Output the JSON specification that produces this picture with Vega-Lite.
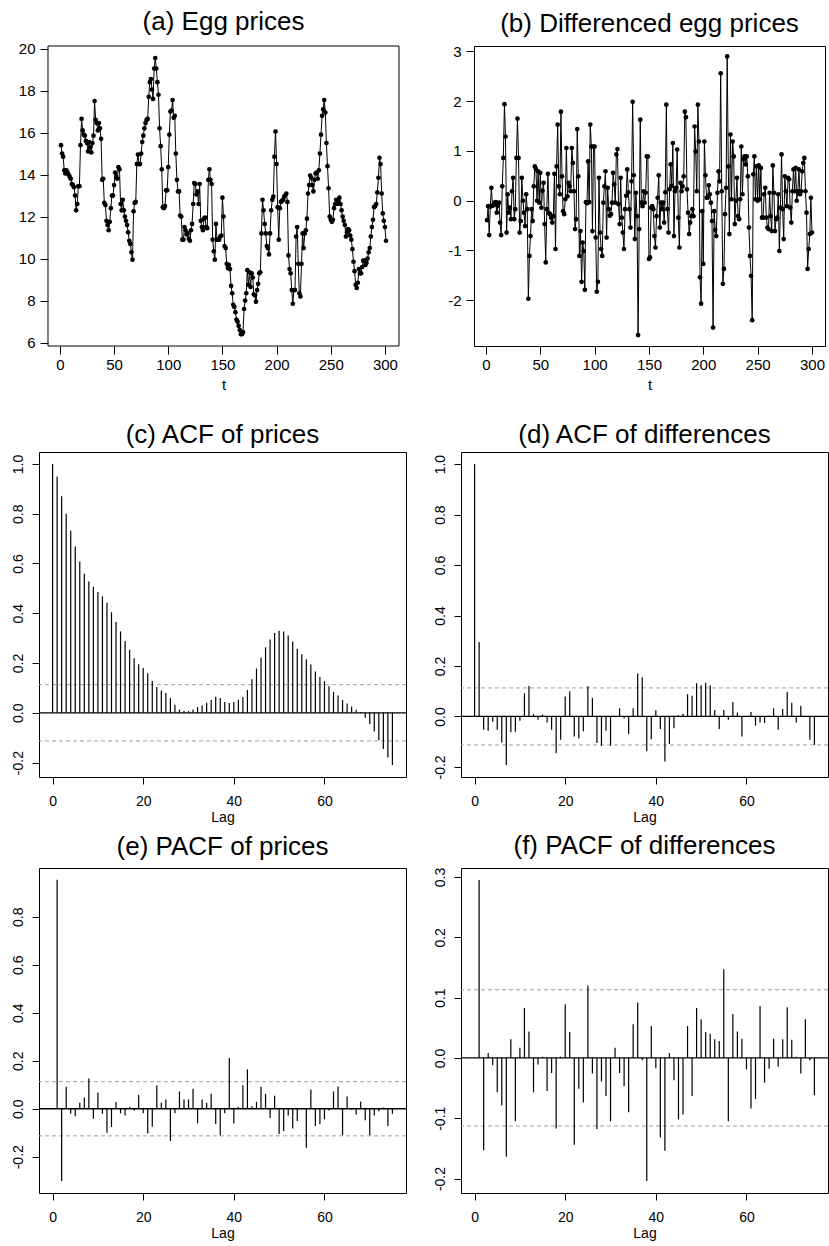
{
"$schema":"https://vega.github.io/schema/vega-lite/v6.json",
"padding":{"left":0,"top":8,"right":0,"bottom":0},
"background":"white",
"config":{
 "font":"Liberation Sans",
 "view":{"stroke":"black","strokeWidth":1},
 "axis":{"domain":false,"grid":false,"ticks":true,"tickColor":"black","tickWidth":1,"labelColor":"black","titleColor":"black","titleFontWeight":"normal","labelFont":"Liberation Sans","titleFont":"Liberation Sans","labelFlush":false,"labelOverlap":false},
 "title":{"fontSize":26,"fontWeight":"normal","font":"Liberation Sans","color":"black","anchor":"middle","frame":"group","baseline":"alphabetic"}
},
"datasets":{
"eggs":[{"t":1,"price":15.4},{"t":2,"price":15.0},{"t":3,"price":14.85},{"t":4,"price":14.2},{"t":5,"price":14.05},{"t":6,"price":14.2},{"t":7,"price":14.1},{"t":8,"price":14.0},{"t":9,"price":13.9},{"t":10,"price":13.8},{"t":11,"price":13.55},{"t":12,"price":13.5},{"t":13,"price":13.4},{"t":14,"price":13.0},{"t":15,"price":12.3},{"t":16,"price":12.6},{"t":17,"price":13.45},{"t":18,"price":13.45},{"t":19,"price":15.4},{"t":20,"price":16.65},{"t":21,"price":16.1},{"t":22,"price":15.9},{"t":23,"price":15.85},{"t":24,"price":15.6},{"t":25,"price":15.5},{"t":26,"price":15.1},{"t":27,"price":15.55},{"t":28,"price":15.3},{"t":29,"price":15.05},{"t":30,"price":15.5},{"t":31,"price":15.85},{"t":32,"price":17.5},{"t":33,"price":16.6},{"t":34,"price":16.45},{"t":35,"price":16.1},{"t":36,"price":16.45},{"t":37,"price":16.2},{"t":38,"price":15.7},{"t":39,"price":13.75},{"t":40,"price":13.8},{"t":41,"price":12.65},{"t":42,"price":12.55},{"t":43,"price":11.8},{"t":44,"price":11.6},{"t":45,"price":11.35},{"t":46,"price":11.75},{"t":47,"price":12.4},{"t":48,"price":13.0},{"t":49,"price":13.0},{"t":50,"price":13.5},{"t":51,"price":14.1},{"t":52,"price":13.9},{"t":53,"price":13.8},{"t":54,"price":14.35},{"t":55,"price":14.25},{"t":56,"price":12.6},{"t":57,"price":12.3},{"t":58,"price":12.8},{"t":59,"price":12.3},{"t":60,"price":12.0},{"t":61,"price":11.8},{"t":62,"price":11.6},{"t":63,"price":11.25},{"t":64,"price":10.85},{"t":65,"price":10.7},{"t":66,"price":10.3},{"t":67,"price":9.95},{"t":68,"price":12.25},{"t":69,"price":12.65},{"t":70,"price":12.7},{"t":71,"price":14.5},{"t":72,"price":14.95},{"t":73,"price":14.5},{"t":74,"price":14.5},{"t":75,"price":15.0},{"t":76,"price":15.55},{"t":77,"price":15.85},{"t":78,"price":16.2},{"t":79,"price":16.45},{"t":80,"price":16.6},{"t":81,"price":16.65},{"t":82,"price":17.7},{"t":83,"price":18.4},{"t":84,"price":18.55},{"t":85,"price":18.05},{"t":86,"price":17.6},{"t":87,"price":19.05},{"t":88,"price":19.55},{"t":89,"price":19.05},{"t":90,"price":18.4},{"t":91,"price":17.8},{"t":92,"price":16.2},{"t":93,"price":15.35},{"t":94,"price":14.25},{"t":95,"price":12.45},{"t":96,"price":12.4},{"t":97,"price":12.5},{"t":98,"price":13.25},{"t":99,"price":13.25},{"t":100,"price":14.35},{"t":101,"price":15.9},{"t":102,"price":17.0},{"t":103,"price":17.05},{"t":104,"price":17.55},{"t":105,"price":16.7},{"t":106,"price":16.8},{"t":107,"price":15.0},{"t":108,"price":13.75},{"t":109,"price":13.2},{"t":110,"price":13.2},{"t":111,"price":12.05},{"t":112,"price":12.0},{"t":113,"price":10.9},{"t":114,"price":10.9},{"t":115,"price":11.5},{"t":116,"price":11.35},{"t":117,"price":11.15},{"t":118,"price":11.2},{"t":119,"price":10.95},{"t":120,"price":10.85},{"t":121,"price":11.35},{"t":122,"price":11.65},{"t":123,"price":12.6},{"t":124,"price":13.6},{"t":125,"price":13.55},{"t":126,"price":13.05},{"t":127,"price":13.2},{"t":128,"price":12.6},{"t":129,"price":13.55},{"t":130,"price":11.8},{"t":131,"price":11.5},{"t":132,"price":11.35},{"t":133,"price":11.9},{"t":134,"price":11.95},{"t":135,"price":11.5},{"t":136,"price":11.45},{"t":137,"price":13.75},{"t":138,"price":14.25},{"t":139,"price":13.75},{"t":140,"price":13.55},{"t":141,"price":10.9},{"t":142,"price":10.35},{"t":143,"price":9.95},{"t":144,"price":11.65},{"t":145,"price":10.9},{"t":146,"price":10.9},{"t":147,"price":10.9},{"t":148,"price":11.05},{"t":149,"price":11.1},{"t":150,"price":12.9},{"t":151,"price":12.0},{"t":152,"price":10.6},{"t":153,"price":10.5},{"t":154,"price":9.75},{"t":155,"price":9.55},{"t":156,"price":9.7},{"t":157,"price":9.5},{"t":158,"price":8.7},{"t":159,"price":8.35},{"t":160,"price":7.8},{"t":161,"price":7.7},{"t":162,"price":7.45},{"t":163,"price":7.1},{"t":164,"price":7.0},{"t":165,"price":6.8},{"t":166,"price":6.6},{"t":167,"price":6.4},{"t":168,"price":6.4},{"t":169,"price":6.5},{"t":170,"price":7.6},{"t":171,"price":8.0},{"t":172,"price":8.35},{"t":173,"price":9.45},{"t":174,"price":8.75},{"t":175,"price":9.35},{"t":176,"price":8.65},{"t":177,"price":9.3},{"t":178,"price":9.1},{"t":179,"price":8.3},{"t":180,"price":8.25},{"t":181,"price":7.95},{"t":182,"price":8.5},{"t":183,"price":8.8},{"t":184,"price":9.3},{"t":185,"price":9.35},{"t":186,"price":11.2},{"t":187,"price":12.8},{"t":188,"price":12.3},{"t":189,"price":11.65},{"t":190,"price":11.2},{"t":191,"price":10.6},{"t":192,"price":10.5},{"t":193,"price":10.2},{"t":194,"price":11.2},{"t":195,"price":12.3},{"t":196,"price":12.8},{"t":197,"price":12.95},{"t":198,"price":14.85},{"t":199,"price":16.05},{"t":200,"price":14.5},{"t":201,"price":12.45},{"t":202,"price":10.9},{"t":203,"price":12.4},{"t":204,"price":12.7},{"t":205,"price":12.75},{"t":206,"price":12.8},{"t":207,"price":12.95},{"t":208,"price":13.0},{"t":209,"price":13.1},{"t":210,"price":12.7},{"t":211,"price":10.15},{"t":212,"price":9.5},{"t":213,"price":9.3},{"t":214,"price":8.5},{"t":215,"price":7.85},{"t":216,"price":8.5},{"t":217,"price":8.5},{"t":218,"price":11.05},{"t":219,"price":11.5},{"t":220,"price":9.75},{"t":221,"price":8.35},{"t":222,"price":8.2},{"t":223,"price":9.75},{"t":224,"price":11.2},{"t":225,"price":10.5},{"t":226,"price":11.2},{"t":227,"price":11.35},{"t":228,"price":11.9},{"t":229,"price":13.1},{"t":230,"price":13.5},{"t":231,"price":13.95},{"t":232,"price":13.85},{"t":233,"price":13.5},{"t":234,"price":13.2},{"t":235,"price":13.75},{"t":236,"price":14.05},{"t":237,"price":14.1},{"t":238,"price":13.8},{"t":239,"price":14.2},{"t":240,"price":15.0},{"t":241,"price":15.9},{"t":242,"price":16.8},{"t":243,"price":17.1},{"t":244,"price":17.55},{"t":245,"price":16.95},{"t":246,"price":15.5},{"t":247,"price":14.4},{"t":248,"price":13.35},{"t":249,"price":12.0},{"t":250,"price":11.85},{"t":251,"price":11.75},{"t":252,"price":11.85},{"t":253,"price":12.4},{"t":254,"price":12.6},{"t":255,"price":12.8},{"t":256,"price":12.6},{"t":257,"price":12.75},{"t":258,"price":12.9},{"t":259,"price":12.6},{"t":260,"price":12.3},{"t":261,"price":12.0},{"t":262,"price":11.8},{"t":263,"price":11.6},{"t":264,"price":11.05},{"t":265,"price":11.25},{"t":266,"price":11.4},{"t":267,"price":11.35},{"t":268,"price":11.1},{"t":269,"price":10.9},{"t":270,"price":10.45},{"t":271,"price":9.85},{"t":272,"price":9.4},{"t":273,"price":8.75},{"t":274,"price":8.6},{"t":275,"price":8.85},{"t":276,"price":9.5},{"t":277,"price":9.3},{"t":278,"price":9.3},{"t":279,"price":9.6},{"t":280,"price":9.9},{"t":281,"price":9.9},{"t":282,"price":9.7},{"t":283,"price":9.8},{"t":284,"price":10.0},{"t":285,"price":10.3},{"t":286,"price":10.5},{"t":287,"price":11.05},{"t":288,"price":11.5},{"t":289,"price":11.85},{"t":290,"price":12.45},{"t":291,"price":12.5},{"t":292,"price":12.6},{"t":293,"price":13.15},{"t":294,"price":13.85},{"t":295,"price":14.8},{"t":296,"price":14.5},{"t":297,"price":13.1},{"t":298,"price":12.15},{"t":299,"price":11.8},{"t":300,"price":11.5},{"t":301,"price":10.85}],
"diffs":[{"t":1,"d":-0.39},{"t":2,"d":-0.11},{"t":3,"d":-0.69},{"t":4,"d":-0.12},{"t":5,"d":0.26},{"t":6,"d":-0.1},{"t":7,"d":-0.09},{"t":8,"d":-0.04},{"t":9,"d":-0.03},{"t":10,"d":-0.24},{"t":11,"d":-0.1},{"t":12,"d":-0.04},{"t":13,"d":-0.44},{"t":14,"d":-0.69},{"t":15,"d":0.29},{"t":16,"d":0.86},{"t":17,"d":1.94},{"t":18,"d":1.29},{"t":19,"d":-0.64},{"t":20,"d":0.13},{"t":21,"d":-0.24},{"t":22,"d":-0.14},{"t":23,"d":-0.37},{"t":24,"d":0.19},{"t":25,"d":0.46},{"t":26,"d":-0.37},{"t":27,"d":-0.17},{"t":28,"d":0.86},{"t":29,"d":1.65},{"t":30,"d":0.86},{"t":31,"d":-0.64},{"t":32,"d":-0.41},{"t":33,"d":0.46},{"t":34,"d":0.0},{"t":35,"d":-0.24},{"t":36,"d":-0.51},{"t":37,"d":0.13},{"t":38,"d":-0.17},{"t":39,"d":-1.97},{"t":40,"d":-1.11},{"t":41,"d":-0.71},{"t":42,"d":-0.17},{"t":43,"d":-0.41},{"t":44,"d":0.29},{"t":45,"d":0.69},{"t":46,"d":0.64},{"t":47,"d":0.0},{"t":48,"d":0.59},{"t":49,"d":-0.04},{"t":50,"d":0.56},{"t":51,"d":-0.14},{"t":52,"d":0.2},{"t":53,"d":0.36},{"t":54,"d":-0.47},{"t":55,"d":-1.24},{"t":56,"d":-0.17},{"t":57,"d":0.54},{"t":58,"d":-0.25},{"t":59,"d":-0.27},{"t":60,"d":-0.34},{"t":61,"d":-0.44},{"t":62,"d":-0.31},{"t":63,"d":0.54},{"t":64,"d":-0.97},{"t":65,"d":0.69},{"t":66,"d":1.53},{"t":67,"d":0.29},{"t":68,"d":0.13},{"t":69,"d":1.79},{"t":70,"d":0.49},{"t":71,"d":-0.21},{"t":72,"d":-0.27},{"t":73,"d":0.03},{"t":74,"d":1.06},{"t":75,"d":0.09},{"t":76,"d":0.36},{"t":77,"d":0.29},{"t":78,"d":0.19},{"t":79,"d":1.06},{"t":80,"d":0.76},{"t":81,"d":0.19},{"t":82,"d":-0.57},{"t":83,"d":-0.37},{"t":84,"d":1.44},{"t":85,"d":0.49},{"t":86,"d":-1.11},{"t":87,"d":-0.61},{"t":88,"d":-1.63},{"t":89,"d":-0.84},{"t":90,"d":-1.01},{"t":91,"d":-1.79},{"t":92,"d":-0.03},{"t":93,"d":-0.05},{"t":94,"d":0.79},{"t":95,"d":-0.03},{"t":96,"d":1.53},{"t":97,"d":1.09},{"t":98,"d":-0.61},{"t":99,"d":1.09},{"t":100,"d":1.09},{"t":101,"d":-0.74},{"t":102,"d":-1.83},{"t":103,"d":-1.63},{"t":104,"d":0.46},{"t":105,"d":-0.64},{"t":106,"d":-0.97},{"t":107,"d":-1.11},{"t":108,"d":-0.04},{"t":109,"d":0.29},{"t":110,"d":0.59},{"t":111,"d":-0.74},{"t":112,"d":0.26},{"t":113,"d":-0.17},{"t":114,"d":-0.3},{"t":115,"d":-0.27},{"t":116,"d":-0.04},{"t":117,"d":0.56},{"t":118,"d":0.33},{"t":119,"d":-0.04},{"t":120,"d":0.93},{"t":121,"d":1.04},{"t":122,"d":-0.07},{"t":123,"d":-0.47},{"t":124,"d":0.46},{"t":125,"d":-0.34},{"t":126,"d":-0.64},{"t":127,"d":-0.97},{"t":128,"d":-0.17},{"t":129,"d":0.1},{"t":130,"d":0.63},{"t":131,"d":0.17},{"t":132,"d":-0.17},{"t":133,"d":-0.54},{"t":134,"d":0.39},{"t":135,"d":1.99},{"t":136,"d":0.51},{"t":137,"d":-0.77},{"t":138,"d":0.16},{"t":139,"d":-0.31},{"t":140,"d":-2.7},{"t":141,"d":-0.57},{"t":142,"d":1.63},{"t":143,"d":-0.04},{"t":144,"d":-0.11},{"t":145,"d":0.19},{"t":146,"d":-0.04},{"t":147,"d":0.16},{"t":148,"d":0.89},{"t":149,"d":0.89},{"t":150,"d":-1.17},{"t":151,"d":-1.14},{"t":152,"d":-0.14},{"t":153,"d":-0.11},{"t":154,"d":-0.17},{"t":155,"d":-0.71},{"t":156,"d":-0.94},{"t":157,"d":-0.31},{"t":158,"d":0.06},{"t":159,"d":0.51},{"t":160,"d":-0.54},{"t":161,"d":-0.04},{"t":162,"d":-0.17},{"t":163,"d":-0.04},{"t":164,"d":-0.44},{"t":165,"d":0.17},{"t":166,"d":1.93},{"t":167,"d":-0.17},{"t":168,"d":-0.64},{"t":169,"d":0.23},{"t":170,"d":0.73},{"t":171,"d":0.3},{"t":172,"d":1.16},{"t":173,"d":-0.71},{"t":174,"d":0.19},{"t":175,"d":0.26},{"t":176,"d":1.03},{"t":177,"d":-0.34},{"t":178,"d":-0.94},{"t":179,"d":0.36},{"t":180,"d":0.19},{"t":181,"d":0.29},{"t":182,"d":0.49},{"t":183,"d":1.79},{"t":184,"d":1.68},{"t":185,"d":0.23},{"t":186,"d":-0.24},{"t":187,"d":-0.67},{"t":188,"d":-0.44},{"t":189,"d":-0.31},{"t":190,"d":-0.17},{"t":191,"d":-0.31},{"t":192,"d":1.49},{"t":193,"d":0.99},{"t":194,"d":0.19},{"t":195,"d":1.93},{"t":196,"d":1.19},{"t":197,"d":-1.54},{"t":198,"d":-2.07},{"t":199,"d":-0.21},{"t":200,"d":-1.27},{"t":201,"d":1.19},{"t":202,"d":0.51},{"t":203,"d":0.06},{"t":204,"d":0.06},{"t":205,"d":0.31},{"t":206,"d":0.13},{"t":207,"d":-0.04},{"t":208,"d":-0.41},{"t":209,"d":-2.55},{"t":210,"d":-0.21},{"t":211,"d":-0.59},{"t":212,"d":-0.71},{"t":213,"d":0.16},{"t":214,"d":0.59},{"t":215,"d":0.39},{"t":216,"d":2.56},{"t":217,"d":0.19},{"t":218,"d":-1.67},{"t":219,"d":-1.37},{"t":220,"d":-0.27},{"t":221,"d":0.26},{"t":222,"d":2.9},{"t":223,"d":0.69},{"t":224,"d":-0.67},{"t":225,"d":1.33},{"t":226,"d":0.03},{"t":227,"d":1.19},{"t":228,"d":0.89},{"t":229,"d":-0.47},{"t":230,"d":0.0},{"t":231,"d":0.46},{"t":232,"d":-0.31},{"t":233,"d":-0.37},{"t":234,"d":0.03},{"t":235,"d":1.09},{"t":236,"d":0.13},{"t":237,"d":0.83},{"t":238,"d":0.89},{"t":239,"d":0.73},{"t":240,"d":0.89},{"t":241,"d":0.49},{"t":242,"d":-0.54},{"t":243,"d":-1.11},{"t":244,"d":-1.51},{"t":245,"d":-2.4},{"t":246,"d":0.53},{"t":247,"d":0.89},{"t":248,"d":0.03},{"t":249,"d":0.69},{"t":250,"d":0.0},{"t":251,"d":0.71},{"t":252,"d":0.03},{"t":253,"d":0.66},{"t":254,"d":-0.34},{"t":255,"d":-0.34},{"t":256,"d":0.13},{"t":257,"d":0.26},{"t":258,"d":-0.34},{"t":259,"d":-0.54},{"t":260,"d":-0.57},{"t":261,"d":0.16},{"t":262,"d":-0.31},{"t":263,"d":-0.61},{"t":264,"d":0.71},{"t":265,"d":0.16},{"t":266,"d":-0.61},{"t":267,"d":-0.37},{"t":268,"d":-0.34},{"t":269,"d":0.13},{"t":270,"d":-1.01},{"t":271,"d":-0.14},{"t":272,"d":0.93},{"t":273,"d":-0.17},{"t":274,"d":-0.77},{"t":275,"d":0.49},{"t":276,"d":0.19},{"t":277,"d":-0.11},{"t":278,"d":0.46},{"t":279,"d":0.43},{"t":280,"d":-0.14},{"t":281,"d":-0.44},{"t":282,"d":0.19},{"t":283,"d":0.63},{"t":284,"d":0.19},{"t":285,"d":0.66},{"t":286,"d":0.0},{"t":287,"d":0.19},{"t":288,"d":0.63},{"t":289,"d":0.13},{"t":290,"d":0.19},{"t":291,"d":0.59},{"t":292,"d":0.76},{"t":293,"d":0.86},{"t":294,"d":0.19},{"t":295,"d":-0.24},{"t":296,"d":-1.37},{"t":297,"d":-0.97},{"t":298,"d":-0.67},{"t":299,"d":0.06},{"t":300,"d":-0.64}],
"acfp":[{"lag":0,"acf":1.0},{"lag":1,"acf":0.95},{"lag":2,"acf":0.87},{"lag":3,"acf":0.8},{"lag":4,"acf":0.732},{"lag":5,"acf":0.668},{"lag":6,"acf":0.608},{"lag":7,"acf":0.559},{"lag":8,"acf":0.528},{"lag":9,"acf":0.507},{"lag":10,"acf":0.485},{"lag":11,"acf":0.468},{"lag":12,"acf":0.442},{"lag":13,"acf":0.404},{"lag":14,"acf":0.365},{"lag":15,"acf":0.327},{"lag":16,"acf":0.289},{"lag":17,"acf":0.253},{"lag":18,"acf":0.219},{"lag":19,"acf":0.195},{"lag":20,"acf":0.18},{"lag":21,"acf":0.159},{"lag":22,"acf":0.128},{"lag":23,"acf":0.104},{"lag":24,"acf":0.09},{"lag":25,"acf":0.08},{"lag":26,"acf":0.059},{"lag":27,"acf":0.032},{"lag":28,"acf":0.013},{"lag":29,"acf":0.007},{"lag":30,"acf":0.007},{"lag":31,"acf":0.013},{"lag":32,"acf":0.023},{"lag":33,"acf":0.029},{"lag":34,"acf":0.04},{"lag":35,"acf":0.051},{"lag":36,"acf":0.064},{"lag":37,"acf":0.059},{"lag":38,"acf":0.043},{"lag":39,"acf":0.039},{"lag":40,"acf":0.043},{"lag":41,"acf":0.052},{"lag":42,"acf":0.063},{"lag":43,"acf":0.092},{"lag":44,"acf":0.135},{"lag":45,"acf":0.178},{"lag":46,"acf":0.222},{"lag":47,"acf":0.263},{"lag":48,"acf":0.295},{"lag":49,"acf":0.321},{"lag":50,"acf":0.33},{"lag":51,"acf":0.327},{"lag":52,"acf":0.311},{"lag":53,"acf":0.287},{"lag":54,"acf":0.257},{"lag":55,"acf":0.235},{"lag":56,"acf":0.215},{"lag":57,"acf":0.194},{"lag":58,"acf":0.166},{"lag":59,"acf":0.144},{"lag":60,"acf":0.127},{"lag":61,"acf":0.107},{"lag":62,"acf":0.084},{"lag":63,"acf":0.07},{"lag":64,"acf":0.051},{"lag":65,"acf":0.037},{"lag":66,"acf":0.025},{"lag":67,"acf":0.012},{"lag":68,"acf":0.003},{"lag":69,"acf":-0.02},{"lag":70,"acf":-0.045},{"lag":71,"acf":-0.075},{"lag":72,"acf":-0.11},{"lag":73,"acf":-0.145},{"lag":74,"acf":-0.18},{"lag":75,"acf":-0.21}],
"acfd":[{"lag":0,"acf":1.0},{"lag":1,"acf":0.295},{"lag":2,"acf":-0.053},{"lag":3,"acf":-0.057},{"lag":4,"acf":-0.021},{"lag":5,"acf":-0.053},{"lag":6,"acf":-0.103},{"lag":7,"acf":-0.192},{"lag":8,"acf":-0.063},{"lag":9,"acf":-0.061},{"lag":10,"acf":-0.017},{"lag":11,"acf":0.092},{"lag":12,"acf":0.121},{"lag":13,"acf":0.009},{"lag":14,"acf":-0.013},{"lag":15,"acf":0.007},{"lag":16,"acf":-0.024},{"lag":17,"acf":-0.053},{"lag":18,"acf":-0.146},{"lag":19,"acf":-0.092},{"lag":20,"acf":0.079},{"lag":21,"acf":0.1},{"lag":22,"acf":-0.079},{"lag":23,"acf":-0.087},{"lag":24,"acf":-0.059},{"lag":25,"acf":0.12},{"lag":26,"acf":0.074},{"lag":27,"acf":-0.105},{"lag":28,"acf":-0.116},{"lag":29,"acf":-0.057},{"lag":30,"acf":-0.116},{"lag":31,"acf":0.001},{"lag":32,"acf":0.032},{"lag":33,"acf":-0.008},{"lag":34,"acf":-0.07},{"lag":35,"acf":0.032},{"lag":36,"acf":0.17},{"lag":37,"acf":0.155},{"lag":38,"acf":-0.138},{"lag":39,"acf":-0.09},{"lag":40,"acf":0.025},{"lag":41,"acf":-0.05},{"lag":42,"acf":-0.179},{"lag":43,"acf":-0.109},{"lag":44,"acf":-0.047},{"lag":45,"acf":0.005},{"lag":46,"acf":0.011},{"lag":47,"acf":0.088},{"lag":48,"acf":0.082},{"lag":49,"acf":0.132},{"lag":50,"acf":0.124},{"lag":51,"acf":0.134},{"lag":52,"acf":0.124},{"lag":53,"acf":0.026},{"lag":54,"acf":-0.05},{"lag":55,"acf":0.026},{"lag":56,"acf":-0.013},{"lag":57,"acf":0.057},{"lag":58,"acf":0.016},{"lag":59,"acf":-0.079},{"lag":60,"acf":-0.001},{"lag":61,"acf":0.018},{"lag":62,"acf":-0.037},{"lag":63,"acf":-0.024},{"lag":64,"acf":-0.026},{"lag":65,"acf":0.003},{"lag":66,"acf":0.032},{"lag":67,"acf":-0.053},{"lag":68,"acf":0.029},{"lag":69,"acf":0.097},{"lag":70,"acf":0.054},{"lag":71,"acf":-0.024},{"lag":72,"acf":0.042},{"lag":73,"acf":-0.001},{"lag":74,"acf":-0.092},{"lag":75,"acf":-0.113}],
"pacfp":[{"lag":1,"pacf":0.954},{"lag":2,"pacf":-0.301},{"lag":3,"pacf":0.092},{"lag":4,"pacf":-0.021},{"lag":5,"pacf":-0.031},{"lag":6,"pacf":0.025},{"lag":7,"pacf":0.047},{"lag":8,"pacf":0.126},{"lag":9,"pacf":-0.042},{"lag":10,"pacf":0.068},{"lag":11,"pacf":-0.021},{"lag":12,"pacf":-0.1},{"lag":13,"pacf":-0.076},{"lag":14,"pacf":0.028},{"lag":15,"pacf":-0.019},{"lag":16,"pacf":-0.028},{"lag":17,"pacf":0.007},{"lag":18,"pacf":-0.007},{"lag":19,"pacf":0.058},{"lag":20,"pacf":-0.019},{"lag":21,"pacf":-0.103},{"lag":22,"pacf":-0.075},{"lag":23,"pacf":0.097},{"lag":24,"pacf":0.025},{"lag":25,"pacf":0.039},{"lag":26,"pacf":-0.134},{"lag":27,"pacf":-0.019},{"lag":28,"pacf":0.072},{"lag":29,"pacf":0.039},{"lag":30,"pacf":0.039},{"lag":31,"pacf":0.083},{"lag":32,"pacf":-0.061},{"lag":33,"pacf":0.039},{"lag":34,"pacf":0.025},{"lag":35,"pacf":0.062},{"lag":36,"pacf":-0.064},{"lag":37,"pacf":-0.111},{"lag":38,"pacf":-0.019},{"lag":39,"pacf":0.211},{"lag":40,"pacf":-0.061},{"lag":41,"pacf":0.007},{"lag":42,"pacf":0.098},{"lag":43,"pacf":0.164},{"lag":44,"pacf":0.01},{"lag":45,"pacf":0.029},{"lag":46,"pacf":0.092},{"lag":47,"pacf":0.062},{"lag":48,"pacf":-0.039},{"lag":49,"pacf":0.054},{"lag":50,"pacf":-0.105},{"lag":51,"pacf":-0.093},{"lag":52,"pacf":-0.028},{"lag":53,"pacf":-0.082},{"lag":54,"pacf":-0.051},{"lag":55,"pacf":0.002},{"lag":56,"pacf":-0.162},{"lag":57,"pacf":0.08},{"lag":58,"pacf":-0.072},{"lag":59,"pacf":-0.065},{"lag":60,"pacf":-0.044},{"lag":61,"pacf":-0.007},{"lag":62,"pacf":0.072},{"lag":63,"pacf":0.093},{"lag":64,"pacf":-0.11},{"lag":65,"pacf":0.051},{"lag":66,"pacf":-0.004},{"lag":67,"pacf":-0.024},{"lag":68,"pacf":0.03},{"lag":69,"pacf":-0.048},{"lag":70,"pacf":-0.11},{"lag":71,"pacf":-0.028},{"lag":72,"pacf":-0.01},{"lag":73,"pacf":0.005},{"lag":74,"pacf":-0.072},{"lag":75,"pacf":-0.021}],
"pacfd":[{"lag":1,"pacf":0.295},{"lag":2,"pacf":-0.153},{"lag":3,"pacf":0.008},{"lag":4,"pacf":-0.012},{"lag":5,"pacf":-0.057},{"lag":6,"pacf":-0.079},{"lag":7,"pacf":-0.164},{"lag":8,"pacf":0.031},{"lag":9,"pacf":-0.105},{"lag":10,"pacf":0.017},{"lag":11,"pacf":0.083},{"lag":12,"pacf":0.044},{"lag":13,"pacf":-0.057},{"lag":14,"pacf":-0.011},{"lag":15,"pacf":0.002},{"lag":16,"pacf":-0.055},{"lag":17,"pacf":-0.025},{"lag":18,"pacf":-0.117},{"lag":19,"pacf":0.002},{"lag":20,"pacf":0.089},{"lag":21,"pacf":0.043},{"lag":22,"pacf":-0.144},{"lag":23,"pacf":-0.051},{"lag":24,"pacf":-0.074},{"lag":25,"pacf":0.12},{"lag":26,"pacf":-0.026},{"lag":27,"pacf":-0.118},{"lag":28,"pacf":-0.039},{"lag":29,"pacf":-0.063},{"lag":30,"pacf":-0.105},{"lag":31,"pacf":0.017},{"lag":32,"pacf":-0.025},{"lag":33,"pacf":-0.047},{"lag":34,"pacf":-0.09},{"lag":35,"pacf":0.056},{"lag":36,"pacf":0.092},{"lag":37,"pacf":-0.004},{"lag":38,"pacf":-0.204},{"lag":39,"pacf":0.053},{"lag":40,"pacf":-0.017},{"lag":41,"pacf":-0.132},{"lag":42,"pacf":-0.154},{"lag":43,"pacf":0.008},{"lag":44,"pacf":-0.037},{"lag":45,"pacf":-0.102},{"lag":46,"pacf":-0.094},{"lag":47,"pacf":0.053},{"lag":48,"pacf":-0.063},{"lag":49,"pacf":0.083},{"lag":50,"pacf":0.064},{"lag":51,"pacf":0.043},{"lag":52,"pacf":0.04},{"lag":53,"pacf":0.031},{"lag":54,"pacf":0.028},{"lag":55,"pacf":0.147},{"lag":56,"pacf":-0.105},{"lag":57,"pacf":0.073},{"lag":58,"pacf":0.044},{"lag":59,"pacf":0.032},{"lag":60,"pacf":-0.019},{"lag":61,"pacf":-0.084},{"lag":62,"pacf":-0.068},{"lag":63,"pacf":0.086},{"lag":64,"pacf":-0.041},{"lag":65,"pacf":-0.018},{"lag":66,"pacf":0.032},{"lag":67,"pacf":-0.014},{"lag":68,"pacf":0.031},{"lag":69,"pacf":0.084},{"lag":70,"pacf":0.03},{"lag":71,"pacf":0.002},{"lag":72,"pacf":-0.026},{"lag":73,"pacf":0.064},{"lag":74,"pacf":-0.004},{"lag":75,"pacf":-0.062}]
},
"spacing":28,
"columns":1,
"align":"none",
"concat":[
{"spacing":45,"hconcat":[
 {"width":360,"height":300,"view":{"stroke":null},"title":{"text":"(a) Egg prices","offset":7,"dx":4.5},"data":{"name":"eggs"},
  "layer":[
   {"data":{"values":[{}]},"mark":{"type":"rect","filled":false,"color":"black","strokeWidth":1},
    "encoding":{
     "x":{"datum":-11,"type":"quantitative","scale":{"domain":[-19.3,313],"nice":false,"zero":false},"axis":{"values":[0,50,100,150,200,250,300],"title":"t","titleX":184.5,"labelFontSize":15,"titleFontSize":15,"tickSize":8,"labelPadding":3,"titlePadding":5}},
     "x2":{"datum":313},
     "y":{"datum":5.84,"type":"quantitative","scale":{"domain":[5.84,20.12],"nice":false,"zero":false},"axis":{"values":[6,8,10,12,14,16,18,20],"title":null,"labelFontSize":15,"tickSize":8,"labelPadding":5,"offset":-9,"minExtent":0}},
     "y2":{"datum":20.12}}},
   {"mark":{"type":"line","color":"black","strokeWidth":1},
    "encoding":{
     "x":{"field":"t","type":"quantitative","scale":{"domain":[-19.3,313],"nice":false,"zero":false},"axis":{"values":[0,50,100,150,200,250,300],"title":"t","titleX":184.5,"labelFontSize":15,"titleFontSize":15,"tickSize":8,"labelPadding":3,"titlePadding":5}},
     "y":{"field":"price","type":"quantitative","scale":{"domain":[5.84,20.12],"nice":false,"zero":false},"axis":{"values":[6,8,10,12,14,16,18,20],"title":null,"labelFontSize":15,"tickSize":8,"labelPadding":5,"offset":-9,"minExtent":0}}}},
   {"mark":{"type":"point","filled":true,"color":"black","size":22,"opacity":1},
    "encoding":{
     "x":{"field":"t","type":"quantitative","scale":{"domain":[-19.3,313],"nice":false,"zero":false},"axis":{"values":[0,50,100,150,200,250,300],"title":"t","titleX":184.5,"labelFontSize":15,"titleFontSize":15,"tickSize":8,"labelPadding":3,"titlePadding":5}},
     "y":{"field":"price","type":"quantitative","scale":{"domain":[5.84,20.12],"nice":false,"zero":false},"axis":{"values":[6,8,10,12,14,16,18,20],"title":null,"labelFontSize":15,"tickSize":8,"labelPadding":5,"offset":-9,"minExtent":0}}}}
  ]},
 {"width":351,"height":300,"title":{"text":"(b) Differenced egg prices","offset":7},"data":{"name":"diffs"},
  "encoding":{
   "x":{"field":"t","type":"quantitative","scale":{"domain":[-11,312],"nice":false,"zero":false},"axis":{"values":[0,50,100,150,200,250,300],"title":"t","labelFontSize":15,"titleFontSize":15,"tickSize":8,"labelPadding":3,"titlePadding":5}},
   "y":{"field":"d","type":"quantitative","scale":{"domain":[-2.92,3.11],"nice":false,"zero":false},"axis":{"values":[-2,-1,0,1,2,3],"title":null,"labelFontSize":15,"tickSize":8,"labelPadding":5,"minExtent":28,"labelExpr":"replace(datum.label,'−','-')"}}},
  "layer":[
   {"mark":{"type":"line","color":"black","strokeWidth":1}},
   {"mark":{"type":"point","filled":true,"color":"black","size":22,"opacity":1}}
  ]}
]},
{"spacing":7,"columns":1,"align":"none","concat":[
 {"spacing":13,"hconcat":[
  {"width":367,"height":325,"title":{"text":"(c) ACF of prices","offset":4},"data":{"name":"acfp"},
   "layer":[
    {"data":{"values":[{"ci":0.113},{"ci":-0.113}]},"mark":{"type":"rule","color":"#a0a0a0","strokeDash":[4,3],"strokeWidth":1},
     "encoding":{"y":{"field":"ci","type":"quantitative","scale":{"domain":[-0.258,1.048],"nice":false,"zero":false},"axis":{"values":[-0.2,0,0.2,0.4,0.6,0.8,1],"format":".1f","labelExpr":"replace(datum.label,'−','-')","title":null,"labelFontSize":14,"tickSize":7,"labelPadding":7,"labelAngle":270,"labelAlign":"center","labelBaseline":"bottom","minExtent":38}}}},
    {"data":{"values":[{"zero":0}]},"mark":{"type":"rule","color":"black","strokeWidth":1.3},
     "encoding":{"y":{"field":"zero","type":"quantitative","scale":{"domain":[-0.258,1.048],"nice":false,"zero":false},"axis":{"values":[-0.2,0,0.2,0.4,0.6,0.8,1],"format":".1f","labelExpr":"replace(datum.label,'−','-')","title":null,"labelFontSize":14,"tickSize":7,"labelPadding":7,"labelAngle":270,"labelAlign":"center","labelBaseline":"bottom","minExtent":38}}}},
    {"mark":{"type":"rule","color":"black","strokeWidth":1.2},
     "encoding":{"x":{"field":"lag","type":"quantitative","scale":{"domain":[-3,78],"nice":false,"zero":false},"axis":{"values":[0,20,40,60],"title":"Lag","labelFontSize":14,"titleFontSize":14,"tickSize":7,"labelPadding":10,"titlePadding":2}},
      "y":{"field":"acf","type":"quantitative","scale":{"domain":[-0.258,1.048],"nice":false,"zero":false},"axis":{"values":[-0.2,0,0.2,0.4,0.6,0.8,1],"format":".1f","labelExpr":"replace(datum.label,'−','-')","title":null,"labelFontSize":14,"tickSize":7,"labelPadding":7,"labelAngle":270,"labelAlign":"center","labelBaseline":"bottom","minExtent":38}},
      "y2":{"datum":0}}}
   ]},
  {"width":367,"height":325,"title":{"text":"(d) ACF of differences","offset":4},"data":{"name":"acfd"},
   "layer":[
    {"data":{"values":[{"ci":0.113},{"ci":-0.113}]},"mark":{"type":"rule","color":"#a0a0a0","strokeDash":[4,3],"strokeWidth":1},
     "encoding":{"y":{"field":"ci","type":"quantitative","scale":{"domain":[-0.24,1.048],"nice":false,"zero":false},"axis":{"values":[-0.2,0,0.2,0.4,0.6,0.8,1],"format":".1f","labelExpr":"replace(datum.label,'−','-')","title":null,"labelFontSize":14,"tickSize":7,"labelPadding":7,"labelAngle":270,"labelAlign":"center","labelBaseline":"bottom","minExtent":39}}}},
    {"data":{"values":[{"zero":0}]},"mark":{"type":"rule","color":"black","strokeWidth":1.3},
     "encoding":{"y":{"field":"zero","type":"quantitative","scale":{"domain":[-0.24,1.048],"nice":false,"zero":false},"axis":{"values":[-0.2,0,0.2,0.4,0.6,0.8,1],"format":".1f","labelExpr":"replace(datum.label,'−','-')","title":null,"labelFontSize":14,"tickSize":7,"labelPadding":7,"labelAngle":270,"labelAlign":"center","labelBaseline":"bottom","minExtent":39}}}},
    {"mark":{"type":"rule","color":"black","strokeWidth":1.2},
     "encoding":{"x":{"field":"lag","type":"quantitative","scale":{"domain":[-3,78],"nice":false,"zero":false},"axis":{"values":[0,20,40,60],"title":"Lag","labelFontSize":14,"titleFontSize":14,"tickSize":7,"labelPadding":10,"titlePadding":2}},
      "y":{"field":"acf","type":"quantitative","scale":{"domain":[-0.24,1.048],"nice":false,"zero":false},"axis":{"values":[-0.2,0,0.2,0.4,0.6,0.8,1],"format":".1f","labelExpr":"replace(datum.label,'−','-')","title":null,"labelFontSize":14,"tickSize":7,"labelPadding":7,"labelAngle":270,"labelAlign":"center","labelBaseline":"bottom","minExtent":39}},
      "y2":{"datum":0}}}
   ]}
 ]},
 {"spacing":13,"hconcat":[
  {"width":367,"height":325,"title":{"text":"(e) PACF of prices","offset":8},"data":{"name":"pacfp"},
   "layer":[
    {"data":{"values":[{"ci":0.113},{"ci":-0.113}]},"mark":{"type":"rule","color":"#a0a0a0","strokeDash":[4,3],"strokeWidth":1},
     "encoding":{"y":{"field":"ci","type":"quantitative","scale":{"domain":[-0.351,1.003],"nice":false,"zero":false},"axis":{"values":[-0.2,0,0.2,0.4,0.6,0.8],"format":".1f","labelExpr":"replace(datum.label,'−','-')","title":null,"labelFontSize":14,"tickSize":7,"labelPadding":7,"labelAngle":270,"labelAlign":"center","labelBaseline":"bottom","minExtent":38}}}},
    {"data":{"values":[{"zero":0}]},"mark":{"type":"rule","color":"black","strokeWidth":1.3},
     "encoding":{"y":{"field":"zero","type":"quantitative","scale":{"domain":[-0.351,1.003],"nice":false,"zero":false},"axis":{"values":[-0.2,0,0.2,0.4,0.6,0.8],"format":".1f","labelExpr":"replace(datum.label,'−','-')","title":null,"labelFontSize":14,"tickSize":7,"labelPadding":7,"labelAngle":270,"labelAlign":"center","labelBaseline":"bottom","minExtent":38}}}},
    {"mark":{"type":"rule","color":"black","strokeWidth":1.2},
     "encoding":{"x":{"field":"lag","type":"quantitative","scale":{"domain":[-3,78],"nice":false,"zero":false},"axis":{"values":[0,20,40,60],"title":"Lag","labelFontSize":14,"titleFontSize":14,"tickSize":7,"labelPadding":10,"titlePadding":2}},
      "y":{"field":"pacf","type":"quantitative","scale":{"domain":[-0.351,1.003],"nice":false,"zero":false},"axis":{"values":[-0.2,0,0.2,0.4,0.6,0.8],"format":".1f","labelExpr":"replace(datum.label,'−','-')","title":null,"labelFontSize":14,"tickSize":7,"labelPadding":7,"labelAngle":270,"labelAlign":"center","labelBaseline":"bottom","minExtent":38}},
      "y2":{"datum":0}}}
   ]},
  {"width":367,"height":325,"title":{"text":"(f) PACF of differences","offset":8},"data":{"name":"pacfd"},
   "layer":[
    {"data":{"values":[{"ci":0.113},{"ci":-0.113}]},"mark":{"type":"rule","color":"#a0a0a0","strokeDash":[4,3],"strokeWidth":1},
     "encoding":{"y":{"field":"ci","type":"quantitative","scale":{"domain":[-0.224,0.315],"nice":false,"zero":false},"axis":{"values":[-0.2,-0.1,0,0.1,0.2,0.3],"format":".1f","labelExpr":"replace(datum.label,'−','-')","title":null,"labelFontSize":14,"tickSize":7,"labelPadding":7,"labelAngle":270,"labelAlign":"center","labelBaseline":"bottom","minExtent":39}}}},
    {"data":{"values":[{"zero":0}]},"mark":{"type":"rule","color":"black","strokeWidth":1.3},
     "encoding":{"y":{"field":"zero","type":"quantitative","scale":{"domain":[-0.224,0.315],"nice":false,"zero":false},"axis":{"values":[-0.2,-0.1,0,0.1,0.2,0.3],"format":".1f","labelExpr":"replace(datum.label,'−','-')","title":null,"labelFontSize":14,"tickSize":7,"labelPadding":7,"labelAngle":270,"labelAlign":"center","labelBaseline":"bottom","minExtent":39}}}},
    {"mark":{"type":"rule","color":"black","strokeWidth":1.2},
     "encoding":{"x":{"field":"lag","type":"quantitative","scale":{"domain":[-3,78],"nice":false,"zero":false},"axis":{"values":[0,20,40,60],"title":"Lag","labelFontSize":14,"titleFontSize":14,"tickSize":7,"labelPadding":10,"titlePadding":2}},
      "y":{"field":"pacf","type":"quantitative","scale":{"domain":[-0.224,0.315],"nice":false,"zero":false},"axis":{"values":[-0.2,-0.1,0,0.1,0.2,0.3],"format":".1f","labelExpr":"replace(datum.label,'−','-')","title":null,"labelFontSize":14,"tickSize":7,"labelPadding":7,"labelAngle":270,"labelAlign":"center","labelBaseline":"bottom","minExtent":39}},
      "y2":{"datum":0}}}
   ]}
 ]}
]}
]
}
